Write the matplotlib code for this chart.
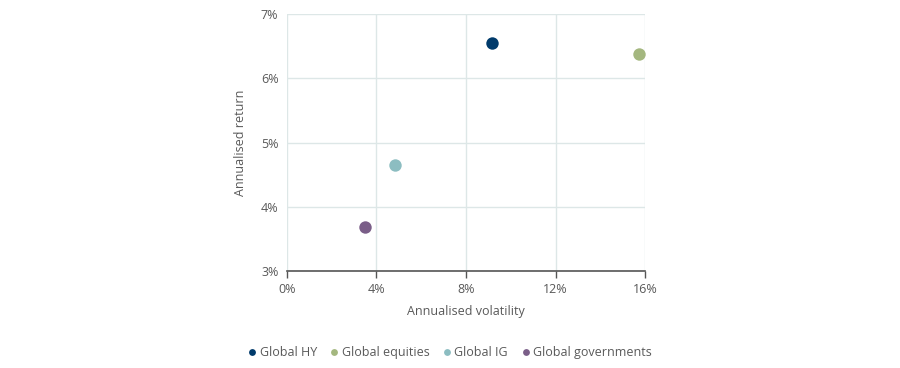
import matplotlib
matplotlib.use('Agg')
import matplotlib.pyplot as plt
from matplotlib.ticker import FuncFormatter

plt.rcParams['font.family'] = ['Open Sans', 'DejaVu Sans']

names = ['Global HY', 'Global equities', 'Global IG', 'Global governments']
volatility = [9.15, 15.73, 4.85, 3.48]
returns = [6.56, 6.38, 4.65, 3.68]
colors = ['#003a6b', '#a4b77f', '#8cbdc1', '#7a5e88']

fig = plt.figure(figsize=(9, 3.68), dpi=100)
ax = fig.add_axes([0.3186, 0.2644, 0.3984, 0.6967])

for n, x, y, c in zip(names, volatility, returns, colors):
    ax.scatter(x, y, s=80, color=c, label=n, zorder=3, linewidths=0)

ax.set_xlim(0, 16)
ax.set_ylim(3, 7)
ax.set_xticks([0, 4, 8, 12, 16])
ax.set_yticks([3, 4, 5, 6, 7])
ax.xaxis.set_major_formatter(FuncFormatter(lambda v, p: '%d%%' % v))
ax.yaxis.set_major_formatter(FuncFormatter(lambda v, p: '%d%%' % v))
ax.grid(True, color='#dde7e7', linewidth=1)
ax.set_axisbelow(True)
for s in ['top', 'right', 'left']:
    ax.spines[s].set_visible(False)
ax.spines['bottom'].set_color('#555555')
ax.spines['bottom'].set_linewidth(1.2)
ax.tick_params(axis='x', colors='#555555', length=5, width=1, labelsize=9, labelcolor='#595959', pad=4)
ax.tick_params(axis='y', length=0, labelsize=9, labelcolor='#595959', pad=6)
ax.set_xlabel('Annualised volatility', fontsize=9, color='#595959', labelpad=6)
ax.set_ylabel('Annualised return', fontsize=9, color='#595959', labelpad=10)

leg = fig.legend(loc='center', bbox_to_anchor=(0.5, 0.043), ncol=4, frameon=False,
                 fontsize=9, handlelength=0.6, handletextpad=0.3, columnspacing=1.1,
                 markerscale=0.55)
for t in leg.get_texts():
    t.set_color('#595959')

fig.savefig('out.png', dpi=100)
